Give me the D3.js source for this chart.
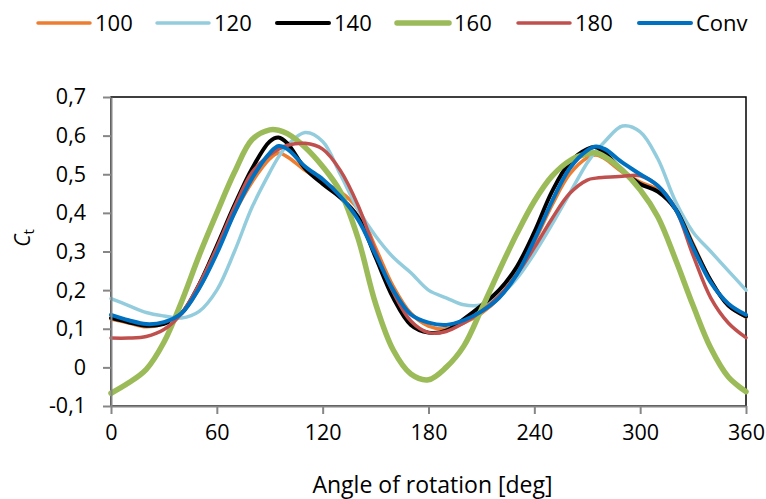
<!DOCTYPE html>
<html>
<head>
<meta charset="utf-8">
<script src="https://cdn.jsdelivr.net/npm/d3@7"></script>
<style>
  body { margin: 0; background: #fff; }
  svg text { font-family: "Open Sans", sans-serif; fill: #000; }
</style>
</head>
<body>
<div id="plotdiv"></div>
<script>
// data
const angles = [0,10,20,30,40,50,60,70,80,90,95,100,110,120,130,140,150,160,170,180,
  190,200,210,220,230,240,250,260,270,275,280,290,300,310,320,330,340,350,360];

const c100 = [0.125,0.115,0.105,0.113,0.14,0.205,0.30,0.40,0.48,0.54,0.555,0.545,0.51,0.48,0.455,0.41,0.31,0.21,0.14,0.107,
  0.10,0.115,0.14,0.18,0.245,0.325,0.42,0.50,0.543,0.55,0.54,0.505,0.48,0.46,0.415,0.32,0.225,0.16,0.13];
const c120 = [0.178,0.16,0.142,0.133,0.128,0.145,0.20,0.30,0.415,0.505,0.545,0.575,0.608,0.585,0.50,0.41,0.34,0.285,0.245,0.20,
  0.18,0.162,0.162,0.185,0.23,0.295,0.37,0.45,0.53,0.56,0.585,0.625,0.61,0.54,0.43,0.35,0.30,0.25,0.20];
const c140 = [0.128,0.117,0.108,0.113,0.14,0.215,0.315,0.42,0.515,0.585,0.595,0.58,0.515,0.475,0.44,0.39,0.285,0.18,0.11,0.09,
  0.095,0.125,0.16,0.20,0.26,0.35,0.455,0.53,0.565,0.57,0.555,0.51,0.475,0.455,0.41,0.315,0.225,0.16,0.132];
const c160 = [-0.067,-0.04,-0.005,0.065,0.17,0.29,0.40,0.505,0.59,0.615,0.614,0.605,0.57,0.52,0.455,0.335,0.165,0.045,-0.017,-0.032,
  0.0,0.055,0.15,0.25,0.345,0.43,0.495,0.535,0.553,0.555,0.545,0.51,0.46,0.39,0.28,0.16,0.05,-0.025,-0.063];
const c180 = [0.076,0.076,0.08,0.098,0.14,0.215,0.31,0.415,0.505,0.55,0.565,0.575,0.58,0.565,0.51,0.42,0.30,0.195,0.12,0.09,
  0.093,0.115,0.145,0.185,0.24,0.31,0.385,0.45,0.485,0.49,0.492,0.495,0.496,0.47,0.41,0.29,0.18,0.115,0.077];
const cConv = [0.136,0.122,0.112,0.117,0.14,0.205,0.295,0.40,0.49,0.555,0.573,0.565,0.52,0.487,0.443,0.383,0.292,0.20,0.137,0.116,
  0.11,0.122,0.145,0.18,0.24,0.33,0.43,0.515,0.562,0.572,0.565,0.53,0.50,0.47,0.41,0.31,0.22,0.165,0.136];

const names = ["100","120","140","160","180","Conv"];
const colors = ["#ED7D31","#93CDDD","#000000","#9BBB59","#C0504D","#0070C0"];
const widths = [3.5,3.5,4,5.5,3.5,4];
const seriesValues = [c100, c120, c140, c160, c180, cConv];

const xTicks = [0,60,120,180,240,300,360];
const yTicks = [-0.1,0,0.1,0.2,0.3,0.4,0.5,0.6,0.7];

// chart
const W = 766, H = 499;
const plot = {left: 111, right: 746, top: 97, bottom: 406};

const svg = d3.select("#plotdiv").append("svg")
  .attr("width", W).attr("height", H);

const x = d3.scaleLinear().domain([0, 360]).range([plot.left, plot.right]);
const y = d3.scaleLinear().domain([-0.1, 0.7]).range([plot.bottom, plot.top]);

// frame (top/right black)
svg.append("rect")
  .attr("x", plot.left).attr("y", plot.top)
  .attr("width", plot.right - plot.left).attr("height", plot.bottom - plot.top)
  .attr("fill", "none").attr("stroke", "#000").attr("stroke-width", 1.5);

// series
const line = d3.line()
  .x((d, i) => x(angles[i]))
  .y(d => y(d))
  .curve(d3.curveCatmullRom.alpha(0.5));

seriesValues.forEach((vals, k) => {
  svg.append("path")
    .attr("d", line(vals))
    .attr("fill", "none")
    .attr("stroke", colors[k])
    .attr("stroke-width", widths[k])
    .attr("stroke-linejoin", "round")
    .attr("stroke-linecap", "round");
});

// axes
const yFmt = v => Math.abs(v) < 1e-9 ? "0" : d3.format(".1f")(v).replace("−", "-").replace(".", ",");

const xAxis = svg.append("g")
  .attr("transform", "translate(0," + plot.bottom + ")")
  .call(d3.axisBottom(x).tickValues(xTicks).tickSize(8).tickSizeOuter(0).tickPadding(11));
const yAxis = svg.append("g")
  .attr("transform", "translate(" + plot.left + ",0)")
  .call(d3.axisLeft(y).tickValues(yTicks).tickFormat(yFmt).tickSize(8).tickSizeOuter(0).tickPadding(17));

[xAxis, yAxis].forEach(g => {
  g.select(".domain").attr("stroke", "#868686").attr("stroke-width", 2);
  g.selectAll(".tick line").attr("stroke", "#868686").attr("stroke-width", 2);
  g.selectAll(".tick text").attr("font-size", 21.5).attr("font-family", "'Open Sans', sans-serif").attr("fill", "#000");
});

// axis titles
svg.append("text")
  .attr("x", (plot.left + plot.right) / 2 + 4).attr("y", 493)
  .attr("text-anchor", "middle").attr("font-size", 23)
  .text("Angle of rotation [deg]");

const yt = svg.append("text")
  .attr("transform", "translate(30,238) rotate(-90)")
  .attr("text-anchor", "middle").attr("font-size", 21);
yt.append("tspan").attr("font-style", "italic").text("C");
yt.append("tspan").attr("font-size", 15).attr("dy", 4).text("t");

// legend
const legX = [38, 157, 277, 397, 518, 639];
const leg = svg.append("g");
names.forEach((n, k) => {
  leg.append("line")
    .attr("x1", legX[k]).attr("x2", legX[k] + 52)
    .attr("y1", 23).attr("y2", 23)
    .attr("stroke", colors[k]).attr("stroke-width", widths[k])
    .attr("stroke-linecap", "round");
  leg.append("text")
    .attr("x", legX[k] + 57).attr("y", 31)
    .attr("font-size", 22)
    .text(n);
});
</script>
</body>
</html>
